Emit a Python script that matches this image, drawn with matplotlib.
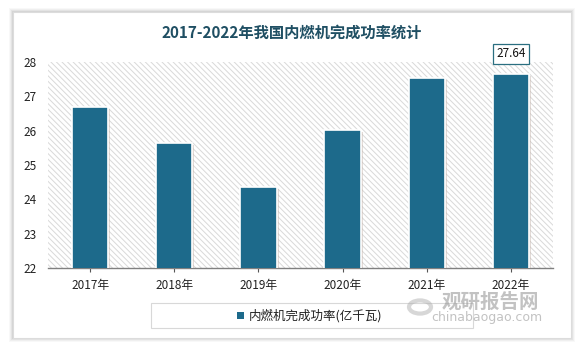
import matplotlib
matplotlib.use('Agg')
import matplotlib.pyplot as plt
import matplotlib.patches as mpatches
import matplotlib.patheffects as pe

plt.rcParams['font.family'] = ['Noto Sans CJK SC', 'DejaVu Sans']
plt.rcParams['hatch.color'] = '#d9d9d9'
plt.rcParams['hatch.linewidth'] = 0.7

years = ['2017年', '2018年', '2019年', '2020年', '2021年', '2022年']
power = [26.69, 25.64, 24.36, 26.02, 27.53, 27.64]   # 亿千瓦
yticks = [22, 23, 24, 25, 26, 27, 28]

BAR = '#1d6a8b'
TITLE = '#1f4f63'
W, H = 583, 349

fig = plt.figure(figsize=(W / 100, H / 100), dpi=100, facecolor='white')

# card with soft grey shadow
for i, a in enumerate([0.05, 0.07, 0.10, 0.14]):
    d = 4 - i
    fig.patches.append(mpatches.Rectangle(((13 - d) / W, (H - 338 - d) / H),
                                          (558 + 2 * d) / W, (326 + 2 * d) / H,
                                          transform=fig.transFigure, facecolor='#808080',
                                          alpha=a, edgecolor='none', zorder=0))
fig.patches.append(mpatches.Rectangle((13 / W, (H - 338) / H), 558 / W, 326 / H,
                                      transform=fig.transFigure, facecolor='white',
                                      edgecolor='#dcdcdc', lw=0.8, zorder=1))

ax = fig.add_axes([48 / W, (H - 268) / H, 505 / W, 206 / H])
ax.set_zorder(2)
ax.patch.set_facecolor('white')
ax.patch.set_hatch('\\\\\\\\\\\\')
ax.patch.set_edgecolor('#d9d9d9')
ax.patch.set_linewidth(0)

x = range(len(years))
bars = ax.bar(x, power, bottom=0, width=0.43, color=BAR, edgecolor='white', lw=1.2,
              zorder=3)
for b in bars:
    b.set_path_effects([pe.SimplePatchShadow(offset=(1.5, -1.5), shadow_rgbFace='#c8b8b0',
                                             alpha=0.5), pe.Normal()])

ax.set_ylim(22, 28)
ax.set_xlim(-0.5, len(years) - 0.5)
ax.set_yticks(yticks)
ax.set_yticklabels([str(v) for v in yticks], fontsize=8.5, color='#222222')
ax.set_xticks(list(x))
ax.set_xticklabels(years, fontsize=8.5, color='#222222')
ax.tick_params(axis='y', length=0, pad=8)
ax.tick_params(axis='x', length=3, color='#555555', pad=5)
for s in ['top', 'right', 'left']:
    ax.spines[s].set_visible(False)
ax.spines['bottom'].set_color('#808080')
ax.spines['bottom'].set_linewidth(1.0)

# value label on the last bar
ax.annotate(f'{power[-1]:.2f}', xy=(len(years) - 1, power[-1]), xytext=(0, 10),
            textcoords='offset points', ha='center', va='bottom', fontsize=8.5,
            color='#111111', zorder=5,
            bbox=dict(boxstyle='square,pad=0.3', facecolor='white', edgecolor='#2a6f80', lw=0.9))

fig.text(0.5, (H - 33) / H, '2017-2022年我国内燃机完成功率统计', ha='center', va='center',
         fontsize=11, fontweight='bold', color=TITLE)

# legend
fig.patches.append(mpatches.Rectangle((151 / W, (H - 328) / H), 322 / W, 25 / H,
                                      transform=fig.transFigure, facecolor='white',
                                      edgecolor='#d8d8d8', lw=0.8, zorder=3))
fig.patches.append(mpatches.Rectangle((237 / W, (H - 319) / H), 7 / W, 7 / H,
                                      transform=fig.transFigure, facecolor=BAR,
                                      edgecolor='none', zorder=4))
fig.text(249 / W, (H - 316) / H, '内燃机完成功率(亿千瓦)', ha='left', va='center',
         fontsize=9, color='#222222', zorder=5)

# watermark
fig.text(490 / W, (H - 302) / H, '观研报告网', ha='center', va='center', fontsize=14,
         fontweight='bold', color='#9a9a9a', alpha=0.6, zorder=6)
fig.text(487 / W, (H - 318) / H, 'chinabaogao.com', ha='center', va='center', fontsize=9,
         color='#9a9a9a', alpha=0.6, zorder=6, family='DejaVu Sans')
fig.patches.append(mpatches.Circle((420 / W, (H - 307) / H), 11 / W, transform=fig.transFigure,
                                   facecolor='none', edgecolor='#b0b0b0', lw=3, alpha=0.5,
                                   zorder=6))

fig.savefig('out.png', dpi=100, facecolor='white')
